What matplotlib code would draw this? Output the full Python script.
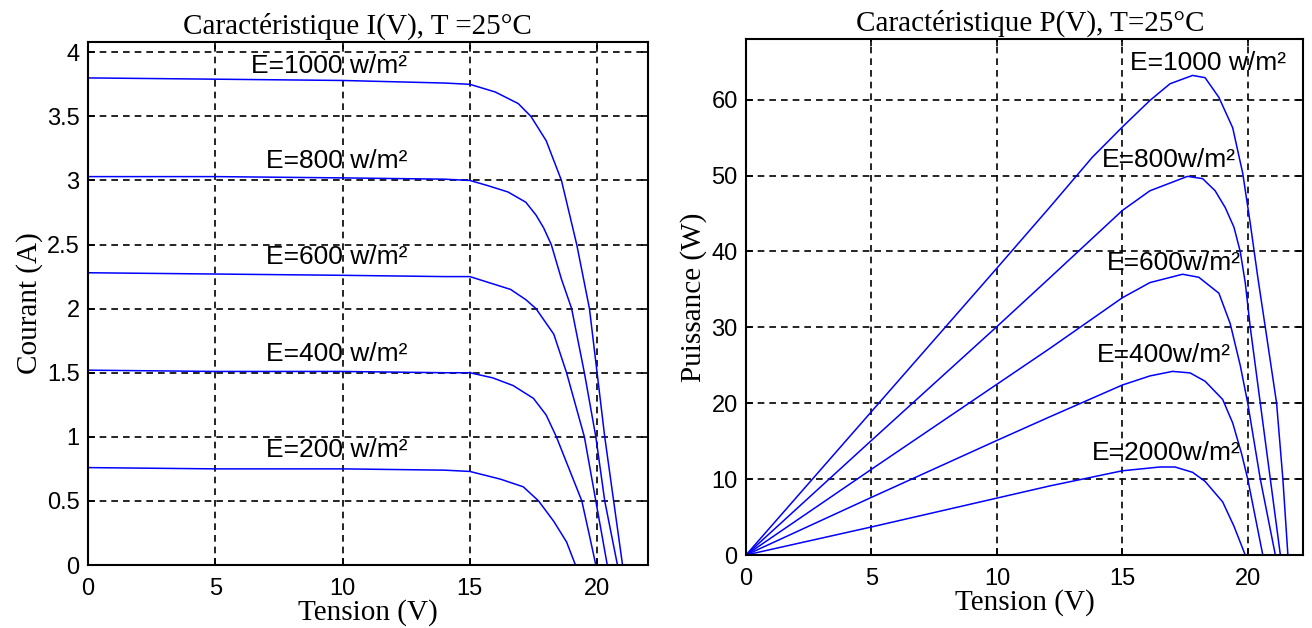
import numpy as np
import matplotlib.pyplot as plt
from matplotlib.ticker import FormatStrFormatter

# I(V) curves (V in volts, I in amps)
v_1000 = [0, 5, 10, 14, 15, 16, 16.9, 17.4, 18.0, 18.6, 19.2, 19.7, 20.0, 20.3, 20.65, 21.0]
i_1000 = [3.80, 3.79, 3.78, 3.76, 3.75, 3.69, 3.60, 3.50, 3.31, 3.00, 2.50, 2.00, 1.50, 1.00, 0.50, 0.0]
v_800 = [0, 5, 10, 14, 15, 15.7, 16.5, 17.2, 17.6, 17.9, 18.2, 18.6, 19.0, 19.5, 19.95, 20.3, 20.8]
i_800 = [3.03, 3.03, 3.02, 3.01, 3.00, 2.96, 2.91, 2.83, 2.73, 2.63, 2.50, 2.23, 2.00, 1.50, 1.00, 0.50, 0.0]
v_600 = [0, 5, 10, 14, 15, 15.8, 16.6, 17.2, 17.6, 18.3, 18.8, 19.5, 19.95, 20.4]
i_600 = [2.28, 2.27, 2.26, 2.25, 2.25, 2.20, 2.15, 2.07, 2.00, 1.80, 1.50, 1.00, 0.50, 0.0]
v_400 = [0, 5, 10, 14, 15, 15.9, 16.7, 17.5, 18.0, 18.4, 18.8, 19.1, 19.4, 19.7, 19.95]
i_400 = [1.52, 1.51, 1.51, 1.50, 1.50, 1.46, 1.40, 1.30, 1.17, 1.00, 0.80, 0.65, 0.50, 0.23, 0.0]
v_200 = [0, 5, 10, 14, 15, 16.2, 17.1, 17.7, 18.3, 18.8, 19.15]
i_200 = [0.76, 0.75, 0.75, 0.74, 0.73, 0.67, 0.61, 0.50, 0.34, 0.18, 0.0]

# P(V) curves
pv_1000 = [0, 5, 10, 12.1, 13.8, 15, 16.1, 16.9, 17.8, 18.3, 18.85, 19.4, 19.8, 20.1, 20.4, 20.7, 21.15, 21.4, 21.6]
p_1000 = [0, 18.9, 37.8, 45.8, 52.4, 56.4, 59.9, 62.1, 63.2, 62.9, 60.3, 56.3, 50.3, 43.7, 36.6, 30.0, 20.0, 10.0, 0.0]
pv_800 = [0, 5, 10, 12.1, 15, 16.1, 17.6, 18.2, 18.7, 19.1, 19.45, 19.7, 19.9, 20.1, 20.5, 20.9, 21.3]
p_800 = [0, 15.1, 30.1, 36.5, 45.4, 48.0, 49.9, 49.6, 48.0, 45.8, 43.2, 40.0, 35.9, 30.0, 20.0, 10.0, 0.0]
pv_600 = [0, 5, 10, 12.1, 15, 16.1, 17.4, 18.05, 18.85, 19.3, 19.7, 20.0, 20.5, 21.1]
p_600 = [0, 11.3, 22.5, 27.2, 33.9, 35.9, 37.0, 36.6, 34.5, 30.5, 25.0, 20.0, 10.0, 0.0]
pv_400 = [0, 5, 10, 12.1, 15, 16.1, 17.0, 17.7, 18.3, 19.0, 19.4, 19.75, 20.0, 20.3, 20.6]
p_400 = [0, 7.6, 15.1, 18.2, 22.4, 23.6, 24.2, 24.0, 22.9, 20.5, 17.4, 13.4, 10.0, 5.0, 0.0]
pv_200 = [0, 5, 10, 12.1, 15, 16.5, 17.1, 17.8, 18.3, 19.0, 19.45, 19.9]
p_200 = [0, 3.7, 7.5, 9.1, 11.1, 11.6, 11.6, 10.9, 9.7, 7.0, 3.8, 0.0]

# labels (left ones end at the same x, right ones start at given x)
left_labels = ['E=1000 w/m²', 'E=800 w/m²', 'E=600 w/m²', 'E=400 w/m²', 'E=200 w/m²']
left_label_pos = [(12.55, 3.89), (12.55, 3.15), (12.55, 2.40), (12.55, 1.65), (12.55, 0.90)]
right_labels = ['E=1000 w/m²', 'E=800w/m²', 'E=600w/m²', 'E=400w/m²', 'E=2000w/m²']
right_label_pos = [(15.3, 64.8), (14.2, 52.0), (14.4, 38.5), (14.0, 26.4), (13.8, 13.5)]

serif = 'Liberation Serif'
sans = 'Liberation Sans'
blue = '#0000ff'

fig = plt.figure(figsize=(13.12, 6.28), dpi=100)
ax1 = fig.add_axes([0.0671, 0.1003, 0.4268, 0.8328])
ax2 = fig.add_axes([0.5686, 0.1162, 0.4245, 0.8217])


def style_axes(ax):
    ax.grid(True, color='black', linestyle=(0, (4, 3)), linewidth=1.2)
    ax.tick_params(direction='in', top=True, right=True, length=5, width=1.2,
                   labelsize=17)
    ax.tick_params(axis='x', pad=9)
    ax.tick_params(axis='y', pad=6)
    for lab in ax.get_xticklabels() + ax.get_yticklabels():
        lab.set_fontfamily(sans)
    for s in ax.spines.values():
        s.set_linewidth(1.5)


# left: I(V)
for v, i in [(v_1000, i_1000), (v_800, i_800), (v_600, i_600), (v_400, i_400), (v_200, i_200)]:
    ax1.plot(v, i, color=blue, linewidth=1.1)
for txt, (x, y) in zip(left_labels, left_label_pos):
    ax1.text(x, y, txt, fontsize=19, family=sans, ha='right', va='center')
ax1.set_xlim(0, 22)
ax1.set_ylim(0, 4.08)
ax1.set_xticks([0, 5, 10, 15, 20])
ax1.set_yticks(np.arange(0, 4.01, 0.5))
ax1.yaxis.set_major_formatter(FormatStrFormatter('%g'))
style_axes(ax1)
ax1.set_title('Caractéristique I(V), T =25°C', fontsize=21, family=serif, pad=6, x=0.482)
ax1.set_xlabel('Tension (V)', fontsize=21, family=serif, labelpad=0)
ax1.set_ylabel('Courant (A)', fontsize=21, family=serif, labelpad=3)

# right: P(V)
for v, p in [(pv_1000, p_1000), (pv_800, p_800), (pv_600, p_600), (pv_400, p_400), (pv_200, p_200)]:
    ax2.plot(v, p, color=blue, linewidth=1.1)
for txt, (x, y) in zip(right_labels, right_label_pos):
    ax2.text(x, y, txt, fontsize=19, family=sans, ha='left', va='center')
ax2.set_xlim(0, 22.2)
ax2.set_ylim(0, 68)
ax2.set_xticks([0, 5, 10, 15, 20])
ax2.set_yticks([0, 10, 20, 30, 40, 50, 60])
style_axes(ax2)
ax2.set_title('Caractéristique P(V), T=25°C', fontsize=21, family=serif, pad=6, x=0.51)
ax2.set_xlabel('Tension (V)', fontsize=21, family=serif, labelpad=0)
ax2.set_ylabel('Puissance (W)', fontsize=21, family=serif, labelpad=3)

fig.savefig('out.png', dpi=100)
